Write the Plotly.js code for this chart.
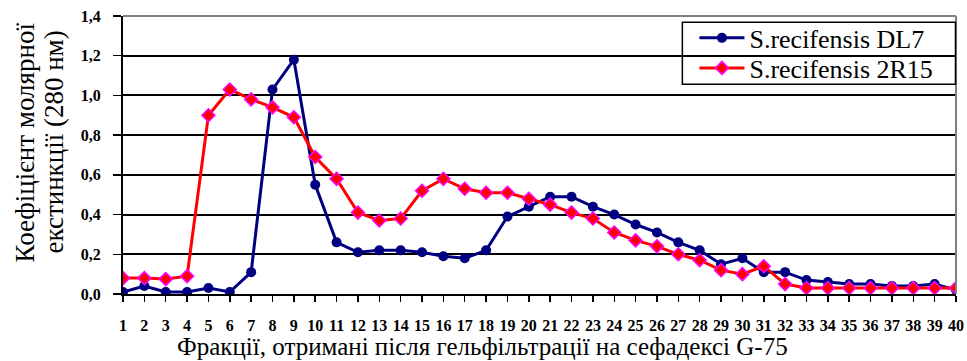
<!DOCTYPE html>
<html>
<head>
<meta charset="utf-8">
<script src="https://cdn.plot.ly/plotly-3.0.1.min.js"></script>
<style>
html,body{margin:0;padding:0;background:#fff;}
#chart{width:967px;height:361px;}
</style>
</head>
<body>
<div id="chart"></div>
<script>
var fractions = [1,2,3,4,5,6,7,8,9,10,11,12,13,14,15,16,17,18,19,20,21,22,23,24,25,26,27,28,29,30,31,32,33,34,35,36,37,38,39,40];
var seriesNames = ["S.recifensis DL7", "S.recifensis 2R15"];
var dl7 = [0.01,0.04,0.01,0.01,0.03,0.01,0.11,1.03,1.18,0.55,0.26,0.21,0.22,0.22,0.21,0.19,0.18,0.22,0.39,0.44,0.49,0.49,0.44,0.40,0.35,0.31,0.26,0.22,0.15,0.18,0.11,0.11,0.07,0.06,0.05,0.05,0.04,0.04,0.05,0.02];
var r2r15 = [0.08,0.08,0.075,0.09,0.90,1.03,0.98,0.94,0.89,0.69,0.58,0.41,0.37,0.38,0.52,0.58,0.53,0.51,0.51,0.48,0.45,0.41,0.38,0.31,0.27,0.24,0.20,0.17,0.12,0.10,0.14,0.05,0.03,0.03,0.03,0.03,0.03,0.03,0.03,0.03];
var yTicks = [0,0.2,0.4,0.6,0.8,1.0,1.2,1.4];
var xTitle = "Фракції, отримані після гельфільтрації на сефадексі G-75";
var yTitleLines = ["Коефіцієнт молярної", "екстинкції (280 нм)"];

var serifFont = "Liberation Serif";

var traces = [
  {
    x: fractions, y: dl7, name: seriesNames[0], type: "scatter", mode: "lines+markers",
    line: {color: "#000080", width: 3},
    marker: {symbol: "circle", size: 10, color: "#000080"},
    legend: "legend"
  },
  {
    x: fractions, y: r2r15, name: seriesNames[1], type: "scatter", mode: "lines+markers",
    line: {color: "#FF0000", width: 3},
    marker: {symbol: "diamond", size: 10, color: "#FF0000", line: {color: "#FF00FF", width: 1.5}},
    legend: "legend2"
  }
];

var legendCommon = {
  x: 0.686, xanchor: "left", yanchor: "middle",
  bgcolor: "rgba(0,0,0,0)", borderwidth: 0,
  font: {family: serifFont, size: 26, color: "#000"},
  itemwidth: 45
};

var layout = {
  width: 967, height: 361,
  margin: {l: 123, r: 11, t: 16, b: 67},
  paper_bgcolor: "#fff", plot_bgcolor: "#fff",
  separators: ", ",
  showlegend: true,
  font: {family: serifFont, color: "#000"},
  xaxis: {
    range: [1, 40], tickvals: fractions, ticktext: fractions.map(String),
    tickangle: 0, showgrid: false, zeroline: false,
    showline: true, linecolor: "#000", linewidth: 2,
    ticks: "outside", ticklen: 6, tickwidth: 1.5, tickcolor: "#000",
    tickfont: {family: serifFont, size: 16, color: "#000", weight: "bold"},
    ticklabelstandoff: 10
  },
  yaxis: {
    range: [0, 1.4], tickvals: yTicks, tickformat: ".1f",
    showgrid: true, gridcolor: "#000", gridwidth: 2, zeroline: false,
    showline: true, linecolor: "#000", linewidth: 2,
    ticks: "outside", ticklen: 8, tickwidth: 1.5, tickcolor: "#000",
    tickfont: {family: serifFont, size: 16, color: "#000", weight: "bold"},
    ticklabelstandoff: 9
  },
  legend: Object.assign({}, legendCommon, {y: 0.921}),
  legend2: Object.assign({}, legendCommon, {y: 0.813}),
  shapes: [
    {type: "line", xref: "paper", yref: "paper", x0: 0, x1: 1, y0: 1, y1: 1, line: {color: "#808080", width: 2}},
    {type: "line", xref: "paper", yref: "paper", x0: 1, x1: 1, y0: 0, y1: 1, line: {color: "#808080", width: 2}},
    {type: "rect", xref: "paper", yref: "paper", x0: 0.6715, x1: 0.9994, y0: 0.7548, y1: 0.9774,
     line: {color: "#000", width: 1.5}, fillcolor: "rgba(0,0,0,0)"}
  ],
  annotations: [
    {text: xTitle, xref: "paper", yref: "paper", x: 0.4313, y: -0.19, xanchor: "center", yanchor: "middle",
     showarrow: false, font: {family: serifFont, size: 25, color: "#000"}},
    {text: yTitleLines[0], xref: "paper", yref: "paper", x: -0.1176, y: 0.545, xanchor: "center", yanchor: "middle",
     textangle: -90, showarrow: false, font: {family: serifFont, size: 27, color: "#000"}},
    {text: yTitleLines[1], xref: "paper", yref: "paper", x: -0.0828, y: 0.545, xanchor: "center", yanchor: "middle",
     textangle: -90, showarrow: false, font: {family: serifFont, size: 27, color: "#000"}}
  ]
};

Plotly.newPlot("chart", traces, layout, {displayModeBar: false, staticPlot: true});
</script>
</body>
</html>
